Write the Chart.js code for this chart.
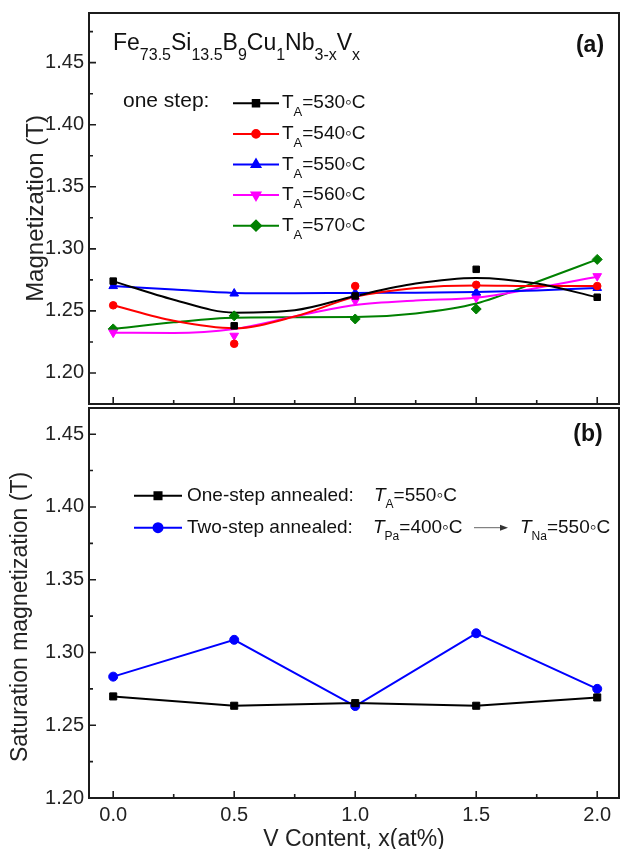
<!DOCTYPE html>
<html>
<head>
<meta charset="utf-8">
<script src="https://cdn.jsdelivr.net/npm/chart.js@4.4.1/dist/chart.umd.min.js"></script>
<style>
  html, body { margin: 0; padding: 0; background: #fff; }
  #wrap { position: relative; width: 622px; height: 849px; overflow: hidden; }
  canvas { position: absolute; left: 0; }
  #chartA { top: 0; }
  #chartB { top: 400px; }
</style>
</head>
<body>
<div id="wrap">
  <canvas id="chartA" width="625" height="410"></canvas>
  <canvas id="chartB" width="625" height="449"></canvas>
</div>
<script>
const FONT = '"Liberation Sans", Arial, Helvetica, sans-serif';
const INK = '#1c1c1c';

// V content x (at%)
const vContent = [0, 0.5, 1.0, 1.5, 2.0];
// x positions where the smoothed curves were sampled
const fitX = [0, 0.25, 0.5, 0.75, 1.0, 1.25, 1.5, 1.75, 2.0];

// (a) one-step annealing, measured magnetization (T)
const ms530 = [1.274, 1.238, 1.262, 1.2835, 1.261];
const ms540 = [1.2545, 1.2235, 1.270, 1.271, 1.270];
const ms550 = [1.270, 1.264, 1.2645, 1.2648, 1.2685];
const ms560 = [1.2325, 1.230, 1.258, 1.2605, 1.278];
const ms570 = [1.2355, 1.246, 1.2435, 1.2515, 1.2915];

// (a) smoothed curves at fitX
const fit530 = [1.274, 1.259, 1.2486, 1.2505, 1.262, 1.272, 1.2765, 1.272, 1.261];
const fit540 = [1.2545, 1.242, 1.236, 1.2455, 1.2613, 1.2685, 1.2705, 1.270, 1.270];
const fit550 = [1.270, 1.2672, 1.2645, 1.2642, 1.2645, 1.2646, 1.2652, 1.2665, 1.2685];
const fit560 = [1.2325, 1.2322, 1.2355, 1.2455, 1.2547, 1.2584, 1.2606, 1.2685, 1.2775];
const fit570 = [1.2355, 1.2408, 1.2445, 1.2448, 1.245, 1.248, 1.256, 1.2733, 1.2915];

// (b) saturation magnetization (T)
const oneStep = [1.2698, 1.2634, 1.2652, 1.2634, 1.2691];
const twoStep = [1.2834, 1.3087, 1.2632, 1.3132, 1.275];

const annealTemps = ['530', '540', '550', '560', '570'];
const yTickVals = [1.20, 1.25, 1.30, 1.35, 1.40, 1.45];
const xTickVals = [0, 0.5, 1.0, 1.5, 2.0];

const seriesA = [
  { temp: annealTemps[0], ms: ms530, fit: fit530, color: '#000000', style: 'rect', rot: 0, r: 4.6 },
  { temp: annealTemps[1], ms: ms540, fit: fit540, color: '#ff0000', style: 'circle', rot: 0, r: 3.8 },
  { temp: annealTemps[2], ms: ms550, fit: fit550, color: '#0000ff', style: 'triangle', rot: 0, r: 5 },
  { temp: annealTemps[3], ms: ms560, fit: fit560, color: '#ff00ff', style: 'triangle', rot: 180, r: 5 },
  { temp: annealTemps[4], ms: ms570, fit: fit570, color: '#008000', style: 'rectRot', rot: 0, r: 5 }
];

const pts = (xs, ys) => xs.map((x, i) => ({ x: x, y: ys[i] }));

// text with subscripts / italics, drawn piece by piece
function richText(ctx, x, y, parts, size, subSize, subDrop) {
  ctx.textAlign = 'left';
  ctx.textBaseline = 'alphabetic';
  for (const p of parts) {
    const s = p.sub ? subSize : size;
    ctx.font = (p.italic ? 'italic ' : '') + s + 'px ' + FONT;
    ctx.fillText(p.t, x, p.sub ? y + subDrop : y);
    x += ctx.measureText(p.t).width;
  }
  return x;
}

function legendMark(ctx, x0, x1, y, color, style, rot, r) {
  ctx.strokeStyle = color;
  ctx.fillStyle = color;
  ctx.lineWidth = 2;
  ctx.beginPath();
  ctx.moveTo(x0, y);
  ctx.lineTo(x1, y);
  ctx.stroke();
  Chart.helpers.drawPoint(ctx, { pointStyle: style, rotation: rot, radius: r, borderWidth: 1 }, (x0 + x1) / 2, y);
}

// frame box plus inward major/minor ticks on the bottom and left axes
function frameTicks(yMinor) {
  return {
    id: 'frameTicks',
    afterDatasetsDraw(chart) {
      const { ctx, chartArea: a, scales: { x, y } } = chart;
      ctx.save();
      ctx.strokeStyle = INK;
      ctx.lineWidth = 2;
      ctx.strokeRect(a.left, a.top, a.right - a.left, a.bottom - a.top);
      ctx.lineWidth = 1.6;
      ctx.beginPath();
      const xMinor = [0.25, 0.75, 1.25, 1.75];
      xTickVals.forEach(v => { const px = x.getPixelForValue(v); ctx.moveTo(px, a.bottom); ctx.lineTo(px, a.bottom - 7); });
      xMinor.forEach(v => { const px = x.getPixelForValue(v); ctx.moveTo(px, a.bottom); ctx.lineTo(px, a.bottom - 4); });
      yTickVals.forEach(v => { const py = y.getPixelForValue(v); if (py > a.top && py < a.bottom) { ctx.moveTo(a.left, py); ctx.lineTo(a.left + 7, py); } });
      yMinor.forEach(v => { const py = y.getPixelForValue(v); if (py > a.top && py < a.bottom) { ctx.moveTo(a.left, py); ctx.lineTo(a.left + 4, py); } });
      ctx.stroke();
      ctx.restore();
    }
  };
}

function yScale(min, max, title, titlePad) {
  return {
    type: 'linear',
    min: min,
    max: max,
    grid: { display: false, drawTicks: false },
    border: { display: false },
    afterBuildTicks(s) { s.ticks = yTickVals.map(v => ({ value: v })); },
    ticks: { font: { family: FONT, size: 20 }, color: '#222', padding: 5, callback: v => v.toFixed(2) },
    title: { display: !!title, text: title || '', color: '#222', font: { family: FONT, size: 24 }, padding: { top: titlePad, bottom: 0 } },
    // fixed axis width; no extra room reserved for the end labels
    afterFit(s) { s.width = 89; s.paddingTop = 0; s.paddingBottom = 0; }
  };
}

// ---------- (a) ----------
const dsA = [];
seriesA.forEach(s => {
  dsA.push({
    label: 'TA=' + s.temp, data: pts(vContent, s.ms), showLine: false,
    pointStyle: s.style, rotation: s.rot, pointRadius: s.r,
    backgroundColor: s.color, borderColor: s.color, pointBorderWidth: 1, order: 0
  });
  dsA.push({
    label: 'fit ' + s.temp, data: pts(fitX, s.fit), showLine: true,
    pointRadius: 0, borderColor: s.color, borderWidth: 2,
    cubicInterpolationMode: 'monotone', order: 1
  });
});

const overlayA = {
  id: 'overlayA',
  afterDraw(chart) {
    const ctx = chart.ctx;
    ctx.save();
    ctx.fillStyle = '#111';
    richText(ctx, 113, 50, [
      { t: 'Fe' }, { t: '73.5', sub: true }, { t: 'Si' }, { t: '13.5', sub: true },
      { t: 'B' }, { t: '9', sub: true }, { t: 'Cu' }, { t: '1', sub: true },
      { t: 'Nb' }, { t: '3-x', sub: true }, { t: 'V' }, { t: 'x', sub: true }
    ], 23, 16, 10);

    ctx.font = 'bold 23px ' + FONT;
    ctx.textAlign = 'center';
    ctx.fillText('(a)', 590, 52);

    ctx.textAlign = 'left';
    ctx.font = '21px ' + FONT;
    ctx.fillText('one step:', 123, 107);
    seriesA.forEach((s, i) => {
      const y = 103.3 + i * 30.6;
      legendMark(ctx, 233, 279, y, s.color, s.style, s.rot, s.r);
      ctx.fillStyle = '#111';
      richText(ctx, 282, y + 5, [{ t: 'T' }, { t: 'A', sub: true }, { t: '=' + s.temp + '\u25E6C' }], 19, 13, 8);
    });
    ctx.restore();
  }
};

new Chart(document.getElementById('chartA'), {
  type: 'scatter',
  data: { datasets: dsA },
  options: {
    responsive: false,
    animation: false,
    layout: { padding: { top: 13, right: 2, bottom: 5, left: 0 } },
    plugins: { legend: { display: false }, tooltip: { enabled: false } },
    scales: {
      x: {
        type: 'linear', min: -0.1, max: 2.09,
        grid: { display: false, drawTicks: false }, border: { display: false },
        ticks: { display: false },
        afterFit(s) { s.height = 0; s.paddingLeft = 0; s.paddingRight = 0; }
      },
      y: yScale(1.175, 1.49, 'Magnetization (T)', 22)
    }
  },
  plugins: [frameTicks([1.225, 1.275, 1.325, 1.375, 1.425, 1.475]), overlayA]
});

// ---------- (b) ----------
const overlayB = {
  id: 'overlayB',
  afterDraw(chart) {
    const ctx = chart.ctx;
    ctx.save();
    ctx.fillStyle = '#111';
    ctx.font = 'bold 23px ' + FONT;
    ctx.textAlign = 'center';
    ctx.fillText('(b)', 588, 41);

    // y-axis title
    ctx.save();
    ctx.fillStyle = '#222';
    ctx.translate(21, 217);
    ctx.rotate(-Math.PI / 2);
    ctx.textAlign = 'center';
    ctx.textBaseline = 'middle';
    ctx.font = '23px ' + FONT;
    ctx.fillText('Saturation magnetization (T)', 0, 0);
    ctx.restore();

    const rows = [
      { y: 95.7, color: '#000000', style: 'rect', r: 5, label: 'One-step annealed:' },
      { y: 127.7, color: '#0000ff', style: 'circle', r: 4.5, label: 'Two-step annealed:' }
    ];
    rows.forEach(row => {
      legendMark(ctx, 134, 182, row.y, row.color, row.style, 0, row.r);
      ctx.fillStyle = '#111';
      ctx.textAlign = 'left';
      ctx.font = '19px ' + FONT;
      ctx.fillText(row.label, 187, row.y + 5.5);
    });
    richText(ctx, 374, rows[0].y + 5.5, [{ t: 'T', italic: true }, { t: 'A', sub: true }, { t: '=550\u25E6C' }], 19, 12, 7);
    richText(ctx, 373, rows[1].y + 5.5, [{ t: 'T', italic: true }, { t: 'Pa', sub: true }, { t: '=400\u25E6C' }], 19, 12, 7);
    richText(ctx, 520, rows[1].y + 5.5, [{ t: 'T', italic: true }, { t: 'Na', sub: true }, { t: '=550\u25E6C' }], 19, 12, 7);

    // arrow between the two annealing steps
    const ay = rows[1].y;
    ctx.strokeStyle = '#666';
    ctx.fillStyle = '#333';
    ctx.lineWidth = 1;
    ctx.beginPath();
    ctx.moveTo(474, ay);
    ctx.lineTo(502, ay);
    ctx.stroke();
    ctx.beginPath();
    ctx.moveTo(508, ay);
    ctx.lineTo(500, ay - 3);
    ctx.lineTo(500, ay + 3);
    ctx.closePath();
    ctx.fill();
    ctx.restore();
  }
};

new Chart(document.getElementById('chartB'), {
  type: 'scatter',
  data: {
    datasets: [
      {
        label: 'One-step annealed', data: pts(vContent, oneStep), showLine: true,
        borderColor: '#000000', backgroundColor: '#000000', borderWidth: 2,
        pointStyle: 'rect', pointRadius: 5, pointBorderWidth: 1
      },
      {
        label: 'Two-step annealed', data: pts(vContent, twoStep), showLine: true,
        borderColor: '#0000ff', backgroundColor: '#0000ff', borderWidth: 2,
        pointStyle: 'circle', pointRadius: 4.5, pointBorderWidth: 1
      }
    ]
  },
  options: {
    responsive: false,
    animation: false,
    layout: { padding: { top: 8, right: 2, bottom: 0, left: 0 } },
    plugins: { legend: { display: false }, tooltip: { enabled: false } },
    scales: {
      x: {
        type: 'linear', min: -0.1, max: 2.09,
        grid: { display: false, drawTicks: false }, border: { display: false },
        afterBuildTicks(s) { s.ticks = xTickVals.map(v => ({ value: v })); },
        ticks: { font: { family: FONT, size: 20 }, color: '#222', padding: 5, maxRotation: 0, callback: v => v.toFixed(1) },
        title: { display: true, text: 'V Content, x(at%)', color: '#222', font: { family: FONT, size: 23 }, padding: { top: 0, bottom: -4 } },
        afterFit(s) { s.height = 51; s.paddingLeft = 0; s.paddingRight = 0; }
      },
      y: yScale(1.20, 1.468, null, 0)
    }
  },
  plugins: [frameTicks([1.225, 1.275, 1.325, 1.375, 1.425]), overlayB]
});
</script>
</body>
</html>
